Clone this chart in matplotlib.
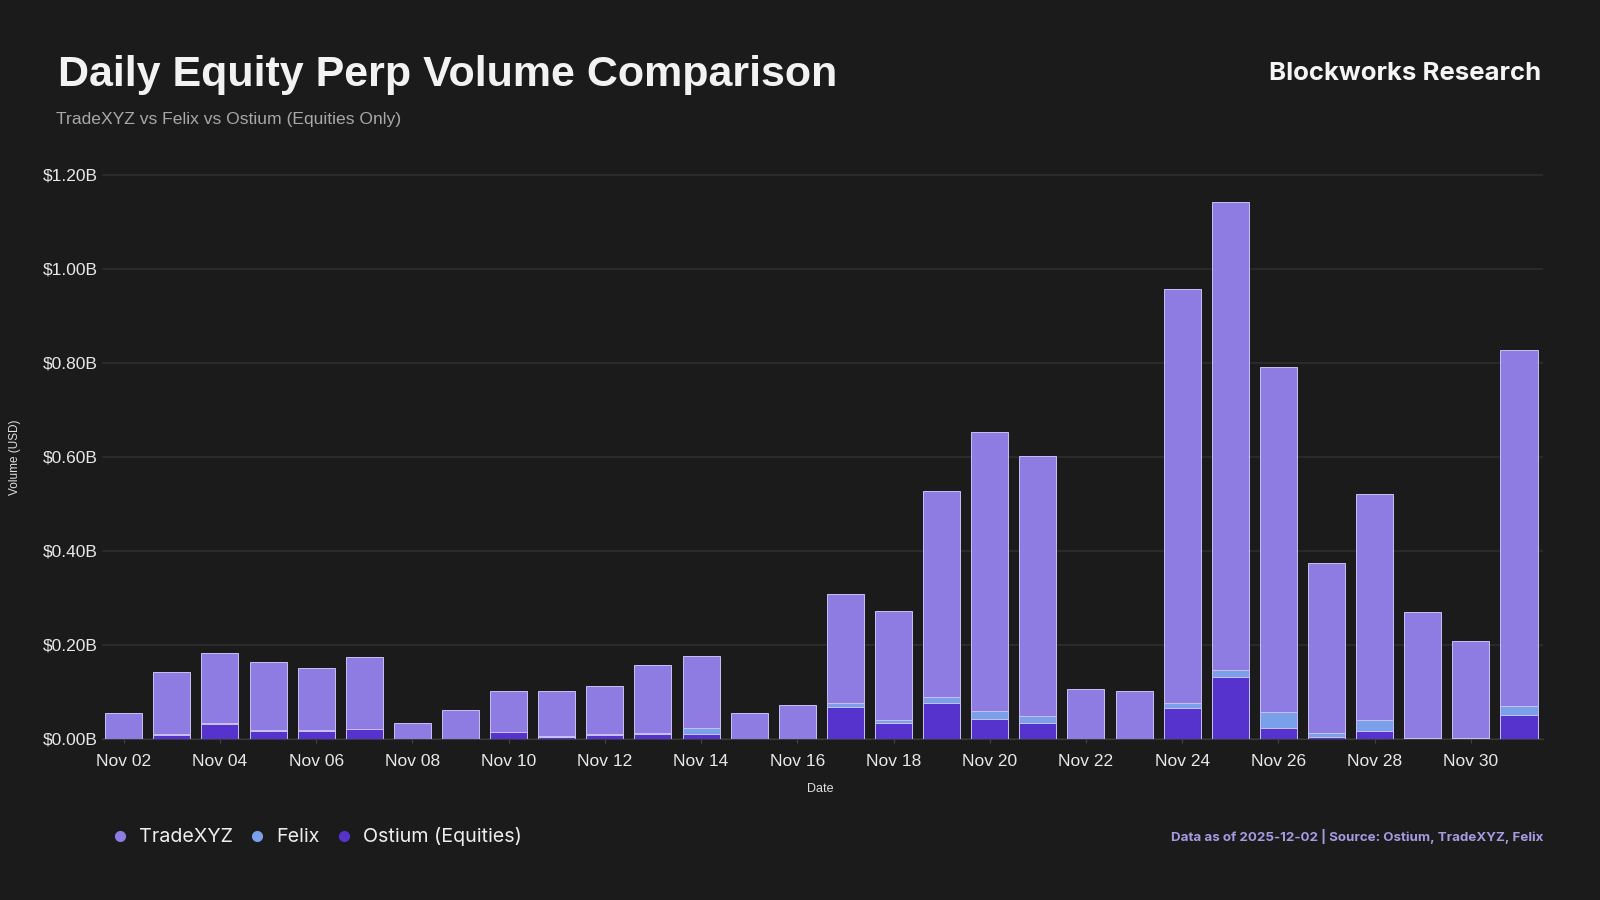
import matplotlib
matplotlib.use("Agg")
import matplotlib.pyplot as plt
from matplotlib.lines import Line2D
from matplotlib.ticker import FuncFormatter

# daily volume, billions USD (Nov 02 .. Dec 01)
days = ["Nov 02", "Nov 03", "Nov 04", "Nov 05", "Nov 06", "Nov 07", "Nov 08", "Nov 09",
        "Nov 10", "Nov 11", "Nov 12", "Nov 13", "Nov 14", "Nov 15", "Nov 16", "Nov 17",
        "Nov 18", "Nov 19", "Nov 20", "Nov 21", "Nov 22", "Nov 23", "Nov 24", "Nov 25",
        "Nov 26", "Nov 27", "Nov 28", "Nov 29", "Nov 30", "Dec 01"]
ostium = [0, 0.007, 0.032, 0.016, 0.016, 0.020, 0, 0, 0.014, 0.003, 0.008, 0.011, 0.011, 0, 0,
          0.068, 0.033, 0.077, 0.043, 0.034, 0, 0, 0.066, 0.131, 0.022, 0.004, 0.017, 0.001, 0.001, 0.050]
felix = [0, 0.002, 0.002, 0.002, 0.002, 0.001, 0, 0, 0.001, 0.003, 0.001, 0.002, 0.011, 0, 0,
         0.007, 0.006, 0.011, 0.016, 0.014, 0, 0, 0.011, 0.015, 0.034, 0.008, 0.023, 0, 0, 0.020]
tradexyz = [0.055, 0.133, 0.148, 0.145, 0.132, 0.152, 0.033, 0.061, 0.087, 0.096, 0.103, 0.143,
            0.153, 0.054, 0.072, 0.233, 0.233, 0.439, 0.594, 0.553, 0.106, 0.102, 0.881, 0.997,
            0.735, 0.362, 0.481, 0.268, 0.206, 0.758]
yticks = [0, 0.2, 0.4, 0.6, 0.8, 1.0, 1.2]

bg = "#1b1b1b"
c_xyz = "#8f7ce2"
c_felix = "#79a0e8"
c_ost = "#5633cc"

fig = plt.figure(figsize=(16, 9), dpi=100, facecolor=bg)
ax = fig.add_axes([0.0638, 0.1792, 0.9006, 0.637], facecolor=bg)

x = list(range(len(days)))
base2 = [o + f for o, f in zip(ostium, felix)]
bw = 0.77
edge = dict(edgecolor="#c9c0f5", linewidth=0.7)
ax.bar(x, ostium, width=bw, color=c_ost, **edge, zorder=3)
ax.bar(x, felix, width=bw, bottom=ostium, color=c_felix, **edge, zorder=3)
ax.bar(x, tradexyz, width=bw, bottom=base2, color=c_xyz, **edge, zorder=3)

ax.set_xlim(-0.45, 29.5)
ax.set_ylim(0, 1.22)
ax.set_yticks(yticks)
ax.yaxis.set_major_formatter(FuncFormatter(lambda v, p: f"${v:.2f}B"))
ax.set_xticks(x[::2])
ax.set_xticklabels(days[::2])
ax.grid(axis="y", color="#2e2e2e", linewidth=1.2, zorder=0)
for s in ["top", "right", "left"]:
    ax.spines[s].set_visible(False)
ax.spines["bottom"].set_color("#3a3a3a")
ax.tick_params(axis="y", length=0, pad=3, labelsize=12.5, labelcolor="#e8e8e8")
ax.tick_params(axis="x", length=3, color="#444444", pad=8, labelsize=12.5, labelcolor="#e8e8e8")
for lab in ax.get_xticklabels() + ax.get_yticklabels():
    lab.set_family("Liberation Sans")

fig.text(0.0095, 0.492, "Volume (USD)", rotation=90, ha="center", va="center",
         color="#e0e0e0", fontsize=8.5, family="Liberation Sans")
fig.text(0.5125, 0.123, "Date", ha="center", va="center", color="#e0e0e0",
         fontsize=9, family="Liberation Sans")

fig.text(0.036, 0.917, "Daily Equity Perp Volume Comparison", ha="left", va="center",
         color="#f2f2f2", fontsize=31, fontweight="bold", family="Liberation Sans")
fig.text(0.035, 0.867, "TradeXYZ vs Felix vs Ostium (Equities Only)", ha="left", va="center",
         color="#a8a8a8", fontsize=12.6, family="Liberation Sans")
fig.text(0.9635, 0.918, "Blockworks Research", ha="right", va="center",
         color="#f5f5f5", fontsize=18.5, fontweight="bold", family="Inter")

handles = [Line2D([], [], marker="o", linestyle="", markersize=7, color=c)
           for c in [c_xyz, c_felix, c_ost]]
fig.legend(handles, ["TradeXYZ", "Felix", "Ostium (Equities)"], loc="center left",
           bbox_to_anchor=(0.054, 0.07), ncol=3, frameon=False, handletextpad=0.15,
           columnspacing=0.45, handlelength=1.6, labelcolor="#eeeeee",
           prop={"family": "Inter", "size": 14.2})

fig.text(0.9645, 0.07, "Data as of 2025-12-02 | Source: Ostium, TradeXYZ, Felix", ha="right",
         va="center", color="#a69be3", fontsize=9.6, fontweight="bold", family="Inter")

fig.savefig("out.png", dpi=100, facecolor=bg)
